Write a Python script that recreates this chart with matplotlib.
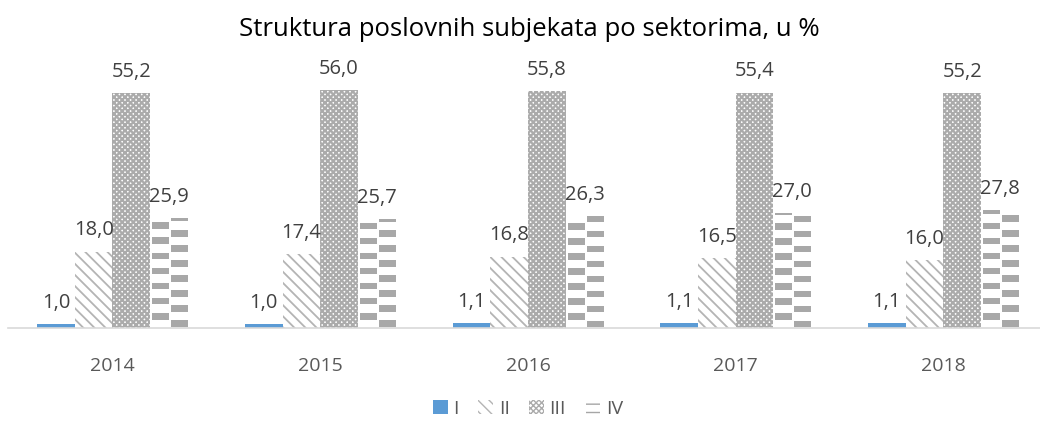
import numpy as np
import matplotlib
matplotlib.use("Agg")
import matplotlib.pyplot as plt
from matplotlib.patches import Patch

years = ["2014", "2015", "2016", "2017", "2018"]
series_names = ["I", "II", "III", "IV"]
s_I = [1.0, 1.0, 1.1, 1.1, 1.1]
s_II = [18.0, 17.4, 16.8, 16.5, 16.0]
s_III = [55.2, 56.0, 55.8, 55.4, 55.2]
s_IV = [25.9, 25.7, 26.3, 27.0, 27.8]
title = "Struktura poslovnih subjekata po sektorima, u %"

plt.rcParams['font.family'] = ['Open Sans', 'DejaVu Sans']

BS = chr(92)
hatch_II = BS * 3
hatch_III = "x" * 6

fig = plt.figure(figsize=(10.4, 4.26), dpi=100)
ax = fig.add_axes([8/1040, 98/426, 1032/1040, 255/426])

x = np.arange(len(years))
w = 0.1815
offsets = [-1.5*w, -0.5*w, 0.5*w, 1.5*w]
label_color = "#404040"

b1 = ax.bar(x + offsets[0], s_I, w, color="#5B9BD5", linewidth=0)
with plt.rc_context({'hatch.linewidth': 1.3}):
    b2 = ax.bar(x + offsets[1], s_II, w, facecolor="white", edgecolor="#B4B4B4",
                hatch=hatch_II, linewidth=0)
with plt.rc_context({'hatch.linewidth': 1.6}):
    b3 = ax.bar(x + offsets[2], s_III, w, facecolor="white", edgecolor="#ABABAB",
                hatch=hatch_III, linewidth=0)
b4 = ax.bar(x + offsets[3], s_IV, w, facecolor="white", edgecolor="none", linewidth=0)

# checker pattern for series IV, derived from each bar's own geometry
cell_h = 1.76
for rect in b4:
    x0 = rect.get_x(); bw = rect.get_width(); h = rect.get_height()
    nrows = int(np.ceil(h / cell_h))
    sub = 8
    img = np.ones((nrows * sub, 2 * sub, 3))
    grey = np.array([0.66, 0.66, 0.66])
    for r in range(nrows):
        c = (r + 1) % 2
        img[r*sub+1:(r+1)*sub, c*sub+1:(c+1)*sub] = grey
    img = img[::-1]
    im = ax.imshow(img, extent=(x0, x0 + bw, 0, nrows * cell_h),
                   origin="upper", aspect="auto", interpolation="nearest", zorder=2)
    im.set_clip_path(rect)

for cont, vals in zip([b1, b2, b3, b4], [s_I, s_II, s_III, s_IV]):
    for rect, v in zip(cont, vals):
        ax.annotate(f"{v:.1f}".replace(".", ","),
                    (rect.get_x() + rect.get_width()/2, rect.get_height()),
                    xytext=(0, 8), textcoords="offset points", ha="center", va="bottom",
                    fontsize=14.5, color=label_color)

ax.set_xlim(-0.503, 4.465)
ax.set_ylim(0, 60)
ax.set_xticks(x)
ax.set_xticklabels(years, fontsize=14, color="#595959")
ax.tick_params(axis="x", length=0, pad=21)
ax.set_yticks([])
for s in ["top", "right", "left"]:
    ax.spines[s].set_visible(False)
ax.spines["bottom"].set_color("#D9D9D9")
ax.spines["bottom"].set_linewidth(1.2)

fig.text(529/1040, 1 - 30/426, title, ha="center", va="center", fontsize=18.5, color="#000000")

handles = [
    Patch(facecolor="#5B9BD5", linewidth=0, label=series_names[0]),
    Patch(facecolor="white", edgecolor="#B4B4B4", hatch=hatch_II, linewidth=0, label=series_names[1]),
    Patch(facecolor="white", edgecolor="#ABABAB", hatch=hatch_III, linewidth=0, label=series_names[2]),
    Patch(facecolor="white", edgecolor="#A6A6A6", hatch="--", linewidth=0, label=series_names[3]),
]
leg = fig.legend(handles=handles, loc="center", bbox_to_anchor=(528/1040, 1 - 409/426),
                 ncol=4, frameon=False, fontsize=14, handlelength=0.75, handleheight=0.75,
                 handletextpad=0.3, columnspacing=1.0)
for t in leg.get_texts():
    t.set_color("#595959")

fig.savefig("out.png", dpi=100)
